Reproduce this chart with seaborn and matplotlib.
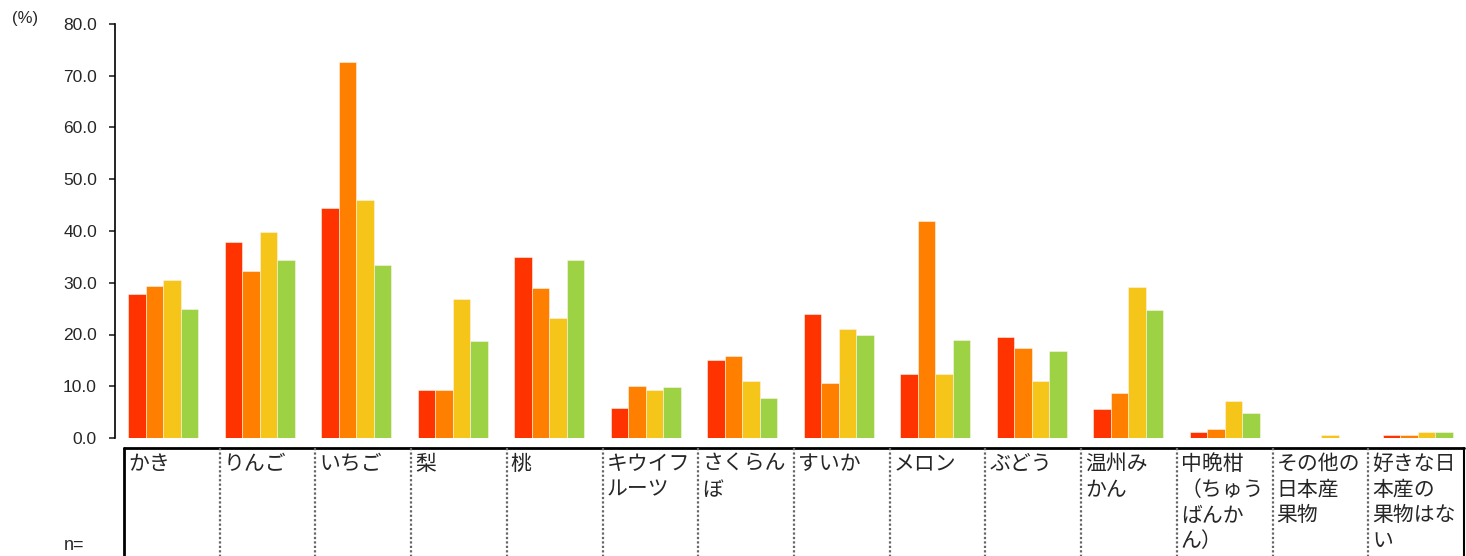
import pandas as pd
import numpy as np
import matplotlib.pyplot as plt
from matplotlib.lines import Line2D
import seaborn as sns

# Data

fruits = ['かき', 'りんご', 'いちご', '梨', '桃', 'キウイフ\nルーツ', 'さくらん\nぼ', 'すいか', 'メロン', 'ぶどう',
          '温州み\nかん', '中晩柑\n（ちゅう\nばんか\nん）', 'その他の\n日本産\n果物', '好きな日\n本産の\n果物はな\nい']
series_names = ['系列1', '系列2', '系列3', '系列4']

s1 = [27.9, 37.8, 44.4, 9.2, 35.0, 5.8, 15.1, 24.0, 12.4, 19.6, 5.7, 1.1, 0.0, 0.5]
s2 = [29.4, 32.3, 72.7, 9.2, 28.9, 10.1, 15.9, 10.7, 41.9, 17.3, 8.6, 1.7, 0.0, 0.5]
s3 = [30.5, 39.8, 45.9, 26.8, 23.1, 9.3, 11.0, 21.1, 12.4, 11.0, 29.1, 7.1, 0.5, 1.1]
s4 = [25.0, 34.4, 33.4, 18.7, 34.4, 9.9, 7.8, 19.9, 19.0, 16.9, 24.8, 4.8, 0.0, 1.1]

colors = ['#FF3300', '#FF8000', '#F5C51A', '#9CD243']
yticks = [0, 10, 20, 30, 40, 50, 60, 70, 80]

#------------------------------------------------------------------------------

rows = []
for name, vals in zip(series_names, [s1, s2, s3, s4]):
    for f, v in zip(fruits, vals):
        rows.append({'fruit': f, 'series': name, 'value': v})
df = pd.DataFrame(rows)

sns.set_style('white')
plt.rcParams['font.family'] = ['Liberation Sans', 'Noto Sans CJK JP', 'DejaVu Sans']

W, H = 1466, 556
fig = plt.figure(figsize=(W / 100, H / 100), dpi=100)
ax = fig.add_axes([115 / W, (H - 438) / H, (W - 115) / W, (438 - 24) / H])

sns.barplot(data=df, x='fruit', y='value', hue='series', hue_order=series_names,
            palette=colors, saturation=1, width=0.73, legend=False,
            edgecolor='#fff4ec', linewidth=0.4, ax=ax)

ax.set_xlim(-0.5, len(fruits) - 0.5)
ax.set_ylim(0, 80)
ax.set_yticks(yticks)
ax.set_yticklabels([f'{t:.1f}' for t in yticks], fontsize=12.5)
ax.set_xticks([])
ax.set_xlabel('')
ax.set_ylabel('')
for s in ['top', 'right', 'bottom']:
    ax.spines[s].set_visible(False)
ax.spines['left'].set_linewidth(1.2)
ax.spines['left'].set_color('black')
ax.tick_params(axis='y', direction='out', length=4, width=1.2, pad=9, left=True)

fig.text(12 / W, 1 - 18 / H, '(%)', fontsize=12, va='center', ha='left')

# table of category names under the bars (figure pixel coords)
tr = fig.transFigure
def px(x, y):
    return x / W, 1 - y / H

x0, x1, ytop = 124, 1464, 448
edges = np.linspace(x0, x1, len(fruits) + 1)
fig.add_artist(Line2D([x0 / W, x1 / W], [1 - ytop / H] * 2, transform=tr, color='black', lw=2))
fig.add_artist(Line2D([x0 / W] * 2, [1 - ytop / H, 0], transform=tr, color='black', lw=2))
fig.add_artist(Line2D([x1 / W] * 2, [1 - ytop / H, 0], transform=tr, color='black', lw=1.5))
for e in edges[1:-1]:
    fig.add_artist(Line2D([e / W] * 2, [1 - ytop / H, 0], transform=tr, color='#666666',
                          lw=1.6, linestyle=(0, (1, 1))))

for i, f in enumerate(fruits):
    x, y = px(edges[i] + 4, 453)
    fig.text(x, y, f, fontsize=15, va='top', ha='left', linespacing=1.22,
             family=['Noto Sans CJK JP', 'DejaVu Sans'])

x, y = px(64, 546)
fig.text(x, y, 'n=', fontsize=13, va='center', ha='left')

fig.savefig('out.png', dpi=100)
